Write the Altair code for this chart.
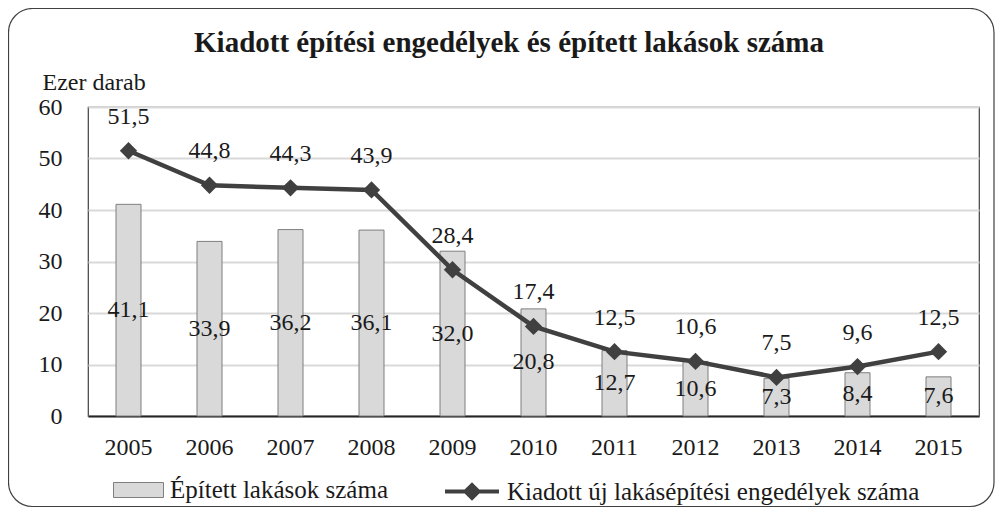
import altair as alt
import pandas as pd

years = ["2005", "2006", "2007", "2008", "2009", "2010", "2011", "2012", "2013", "2014", "2015"]
built = [41.1, 33.9, 36.2, 36.1, 32.0, 20.8, 12.7, 10.6, 7.3, 8.4, 7.6]
permits = [51.5, 44.8, 44.3, 43.9, 28.4, 17.4, 12.5, 10.6, 7.5, 9.6, 12.5]

series_bar = "Épített lakások száma"
series_line = "Kiadott új lakásépítési engedélyek száma"
title_text = "Kiadott építési engedélyek és épített lakások száma"
y_title = "Ezer darab"

FONT = "Liberation Serif"
TXT = "#1a1a1a"

def fmt(v):
    return f"{v:.1f}".replace(".", ",")

df = pd.DataFrame({
    "year": years,
    "built": built,
    "permits": permits,
    "built_lbl": [fmt(v) for v in built],
    "permits_lbl": [fmt(v) for v in permits],
    "s_bar": [series_bar] * len(years),
    "s_line": [series_line] * len(years),
})

x_enc = alt.X("year:N", sort=years,
              scale=alt.Scale(paddingInner=0, paddingOuter=0),
              axis=alt.Axis(title=None, labelAngle=0, labelFont=FONT, labelFontSize=24,
                            labelColor=TXT, ticks=False, labelPadding=19,
                            domainColor="#262626", domainWidth=2))

y_scale = alt.Scale(domain=[0, 60], nice=False)

base = alt.Chart(df)

border = alt.Chart(pd.DataFrame({"a": [0]})).mark_rect(
    fill="white", fillOpacity=0, stroke="#404040", strokeWidth=1.2, cornerRadius=24
).encode(x=alt.value(-79.5), x2=alt.value(906), y=alt.value(-98.5), y2=alt.value(399.5))

bars = base.mark_bar(size=25, stroke="#7f7f7f", strokeWidth=1).encode(
    x=x_enc,
    y=alt.Y("built:Q", scale=y_scale,
            axis=alt.Axis(values=[0, 10, 20, 30, 40, 50, 60], title=y_title,
                          titleAngle=0, titleAlign="left", titleBaseline="alphabetic",
                          titleX=-46, titleY=-18, titleFont=FONT, titleFontSize=24,
                          titleFontWeight="normal", titleColor=TXT,
                          labelFont=FONT, labelFontSize=24, labelColor=TXT,
                          labelPadding=26, ticks=False, domain=False,
                          gridColor="#d9d9d9", gridWidth=2)),
    fill=alt.Fill("s_bar:N", scale=alt.Scale(range=["#d9d9d9"]),
                  legend=alt.Legend(title=None, orient="none", legendX=25, legendY=357.5,
                                    symbolType="M-1,-0.3H1V0.3H-1Z", symbolSize=2500,
                                    symbolFillColor="#d9d9d9", symbolStrokeColor="#7f7f7f",
                                    symbolStrokeWidth=1, labelFont=FONT, labelFontSize=25,
                                    labelColor=TXT, labelOffset=6, labelLimit=600)),
)

bar_text = base.transform_calculate(mid="datum.built / 2").mark_text(
    font=FONT, fontSize=24, color=TXT, baseline="middle"
).encode(x=alt.X("year:N", sort=years), y=alt.Y("mid:Q", scale=y_scale), text="built_lbl:N")

line = base.mark_line(strokeWidth=4.5).encode(
    x=alt.X("year:N", sort=years),
    y=alt.Y("permits:Q", scale=y_scale),
    stroke=alt.Stroke("s_line:N", scale=alt.Scale(range=["#404040"]),
                      legend=alt.Legend(title=None, orient="none", legendX=355, legendY=355.5,
                                        symbolType="M-1,0H1M-0.24,0L0,-0.24L0.24,0L0,0.24Z",
                                        symbolSize=2916, symbolFillColor="#404040",
                                        symbolStrokeColor="#404040", symbolStrokeWidth=4,
                                        labelFont=FONT, labelFontSize=25, labelColor=TXT,
                                        labelOffset=6, labelLimit=600)),
)

points = base.mark_point(shape="diamond", filled=True, size=300, color="#404040", opacity=1).encode(
    x=alt.X("year:N", sort=years),
    y=alt.Y("permits:Q", scale=y_scale),
)

line_text = base.mark_text(font=FONT, fontSize=24, color=TXT, baseline="middle", dy=-34).encode(
    x=alt.X("year:N", sort=years), y=alt.Y("permits:Q", scale=y_scale), text="permits_lbl:N"
)

chart = alt.layer(border, bars, bar_text, line, points, line_text).properties(
    width=891, height=309,
    padding={"left": 80, "top": 99, "right": 16, "bottom": 92},
    autosize="none",
    title=alt.TitleParams(title_text, font=FONT, fontSize=29, fontWeight="bold", color=TXT,
                          anchor="middle", frame="group", dx=-24.5, offset=-73,
                          baseline="alphabetic"),
).configure_view(stroke="#404040", strokeWidth=1.2)

chart.save("out.html", embed_options={"renderer": "svg", "actions": False})
